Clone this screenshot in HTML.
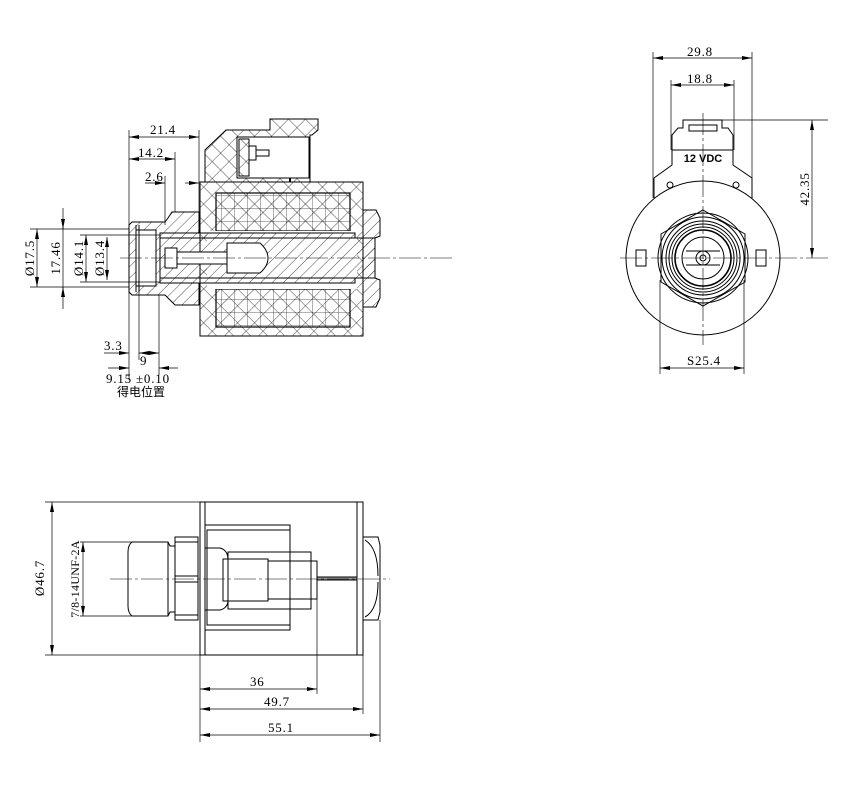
<!DOCTYPE html>
<html><head><meta charset="utf-8"><style>
html,body{margin:0;padding:0;background:#fff;}
svg{display:block;}
text{font-family:"Liberation Serif","Noto Serif CJK SC",serif;font-size:13px;letter-spacing:0.8px;fill:#000;}
</style></head><body>
<svg width="852" height="800" viewBox="0 0 852 800" xmlns="http://www.w3.org/2000/svg">
<defs>
<pattern id="h" width="8" height="8" patternUnits="userSpaceOnUse" patternTransform="rotate(45)"><line x1="0" y1="0" x2="0" y2="8" stroke="#000" stroke-width="0.7"/></pattern>
<pattern id="x" width="12" height="12" patternUnits="userSpaceOnUse" patternTransform="rotate(45)"><line x1="0" y1="0" x2="0" y2="12" stroke="#000" stroke-width="0.7"/><line x1="0" y1="0" x2="12" y2="0" stroke="#000" stroke-width="0.7"/></pattern>
<pattern id="g" width="13" height="13" patternUnits="userSpaceOnUse"><line x1="0" y1="0" x2="0" y2="13" stroke="#000" stroke-width="0.6"/><line x1="0" y1="0" x2="13" y2="0" stroke="#000" stroke-width="0.6"/></pattern>
<marker id="a" viewBox="0 0 10 4" refX="10" refY="2" markerWidth="10" markerHeight="4" orient="auto-start-reverse" markerUnits="userSpaceOnUse"><path d="M0,0L10,2L0,4z" fill="#000"/></marker>
</defs>
<g fill="none" stroke="#000" stroke-width="1">
<rect x="200" y="182" width="163" height="154" fill="url(#x)"/>
<rect x="216" y="193" width="134" height="38" fill="url(#g)" stroke-width="1.2"/>
<rect x="216" y="289" width="134" height="38" fill="url(#g)" stroke-width="1.2"/>
<rect x="207" y="231" width="150" height="58" fill="#fff" stroke="none"/>
<path d="M205,182 L205,150 L226,130 L270,130 L270,119 L318,119 L318,130 L312,135 L310,135 L310,182 Z" fill="url(#x)"/>
<rect x="237" y="137" width="72" height="41" fill="#fff"/>
<rect x="239" y="139" width="10" height="37" fill="url(#x)"/>
<rect x="249" y="146" width="7" height="14" fill="#fff"/>
<rect x="256" y="150" width="13" height="6" fill="#fff"/>
<line x1="290" y1="178" x2="290" y2="182" stroke-width="2"/>
<path d="M129,225 L132,222 L165,222 L168,218 L172,212 L199,212 L199,233 L160,233 L160,283 L199,283 L199,305 L175,305 L168,298 L165,295 L132,295 L129,292 Z" fill="url(#h)"/>
<rect x="136" y="230" width="20" height="56" fill="#fff"/>
<line x1="136" y1="225" x2="136" y2="292"/><line x1="139" y1="225" x2="139" y2="292"/>
<path d="M160,233 L355,233 L355,238 L375,238 L375,278 L355,278 L355,283 L160,283 Z" fill="url(#h)"/>
<rect x="165" y="248" width="12" height="20" fill="#fff"/>
<rect x="177" y="252" width="50" height="12" fill="#fff"/>
<path d="M227,243 L260,243 Q268,250 268,258 Q268,266 260,273 L227,273 Z" fill="#fff"/>
<line x1="160" y1="238" x2="360" y2="238"/><line x1="160" y1="278" x2="360" y2="278"/>
<path d="M363,210 L376,210 L380,218 L380,236 L375,238 L375,278 L380,280 L380,298 L376,307 L363,307 Z" fill="url(#h)"/>
<line x1="120" y1="258" x2="455" y2="258" stroke-width="0.6" stroke-dasharray="22,3,3,3"/>
<line x1="129" y1="130" x2="129" y2="380" stroke-width="0.7"/>
<line x1="199" y1="130" x2="199" y2="212" stroke-width="0.7"/>
<line x1="175" y1="152" x2="175" y2="212" stroke-width="0.7"/>
<line x1="165" y1="176" x2="165" y2="225" stroke-width="0.7"/>
<line x1="129" y1="137" x2="199" y2="137" stroke-width="0.7" marker-start="url(#a)" marker-end="url(#a)"/>
<line x1="129" y1="159" x2="175" y2="159" stroke-width="0.7" marker-start="url(#a)" marker-end="url(#a)"/>
<line x1="145" y1="183" x2="165" y2="183" stroke-width="0.7" marker-end="url(#a)"/>
<line x1="185" y1="183" x2="199" y2="183" stroke-width="0.7" marker-end="url(#a)"/>
<line x1="30" y1="229" x2="129" y2="229" stroke-width="0.7"/>
<line x1="30" y1="287" x2="129" y2="287" stroke-width="0.7"/>
<line x1="80" y1="235" x2="160" y2="235" stroke-width="0.7"/>
<line x1="80" y1="282" x2="160" y2="282" stroke-width="0.7"/>
<line x1="37" y1="229" x2="37" y2="287" stroke-width="0.7" marker-start="url(#a)" marker-end="url(#a)"/>
<line x1="63" y1="208" x2="63" y2="309" stroke-width="0.7"/>
<line x1="63" y1="219" x2="63" y2="229" stroke-width="0.7" marker-end="url(#a)"/>
<line x1="63" y1="297" x2="63" y2="287" stroke-width="0.7" marker-end="url(#a)"/>
<line x1="86" y1="235" x2="86" y2="282" stroke-width="0.7" marker-start="url(#a)" marker-end="url(#a)"/>
<line x1="107" y1="237" x2="107" y2="280" stroke-width="0.7" marker-start="url(#a)" marker-end="url(#a)"/>
<line x1="139" y1="292" x2="139" y2="360" stroke-width="0.7"/>
<line x1="159" y1="295" x2="159" y2="375" stroke-width="0.7"/>
<line x1="104" y1="353" x2="129" y2="353" stroke-width="0.7" marker-end="url(#a)"/>
<line x1="139" y1="353" x2="159" y2="353" stroke-width="0.7" marker-start="url(#a)" marker-end="url(#a)"/>
<line x1="108" y1="368" x2="129" y2="368" stroke-width="0.7" marker-end="url(#a)"/>
<line x1="178" y1="368" x2="159" y2="368" stroke-width="0.7" marker-end="url(#a)"/>
</g>
<text x="150" y="134">21.4</text>
<text x="138" y="157">14.2</text>
<text x="145" y="181">2.6</text>
<text x="104" y="350">3.3</text>
<text x="140" y="365">9</text>
<text x="106" y="383">9.15 ±0.10</text>
<text x="117" y="396" style="font-family:'Noto Sans CJK SC',sans-serif;font-size:12px;letter-spacing:0">得电位置</text>
<text transform="translate(34,258) rotate(-90)" text-anchor="middle">Ø17.5</text>
<text transform="translate(60,258) rotate(-90)" text-anchor="middle">17.46</text>
<text transform="translate(83,258) rotate(-90)" text-anchor="middle">Ø14.1</text>
<text transform="translate(104,258) rotate(-90)" text-anchor="middle">Ø13.4</text>

<g fill="none" stroke="#000" stroke-width="1">
<path d="M654,198 L654,178 L672,165 L672,135 L678,128 L683,128 L683,120 L722,120 L722,128 L728,128 L733,135 L733,165 L752,178 L752,198"/>
<line x1="672" y1="150" x2="733" y2="150"/>
<rect x="689" y="125" width="28" height="6"/>
<circle cx="670" cy="185" r="3"/><circle cx="736" cy="185" r="3"/>
<circle cx="703" cy="258" r="77"/>
<polygon points="703,210 745,234 745,282 703,306 661,282 661,234"/>
<circle cx="703" cy="258" r="45"/>
<circle cx="703" cy="258" r="41"/>
<circle cx="703" cy="258" r="37"/>
<circle cx="703" cy="258" r="34"/>
<circle cx="703" cy="258" r="31"/>
<circle cx="703" cy="258" r="28" stroke-width="1.6"/>
<circle cx="703" cy="258" r="21"/>
<path d="M686,251 L720,251 M686,265 L720,265"/>
<circle cx="703" cy="258" r="7"/><circle cx="703" cy="258" r="3"/>
<rect x="636" y="250" width="10" height="16"/><rect x="756" y="250" width="10" height="16"/>
<line x1="620" y1="258" x2="828" y2="258" stroke-width="0.6" stroke-dasharray="22,3,3,3"/>
<line x1="703" y1="113" x2="703" y2="345" stroke-width="0.6" stroke-dasharray="22,3,3,3"/>
<line x1="653" y1="52" x2="653" y2="198" stroke-width="0.7"/>
<line x1="752" y1="52" x2="752" y2="198" stroke-width="0.7"/>
<line x1="671" y1="80" x2="671" y2="150" stroke-width="0.7"/>
<line x1="734" y1="80" x2="734" y2="150" stroke-width="0.7"/>
<line x1="653" y1="58" x2="752" y2="58" stroke-width="0.7" marker-start="url(#a)" marker-end="url(#a)"/>
<line x1="671" y1="85" x2="734" y2="85" stroke-width="0.7" marker-start="url(#a)" marker-end="url(#a)"/>
<line x1="722" y1="120" x2="828" y2="120" stroke-width="0.7"/>
<line x1="812" y1="120" x2="812" y2="258" stroke-width="0.7" marker-start="url(#a)" marker-end="url(#a)"/>
<line x1="660" y1="280" x2="660" y2="374" stroke-width="0.7"/>
<line x1="744" y1="280" x2="744" y2="374" stroke-width="0.7"/>
<line x1="660" y1="368" x2="744" y2="368" stroke-width="0.7" marker-start="url(#a)" marker-end="url(#a)"/>
</g>
<text x="687" y="56">29.8</text>
<text x="687" y="83">18.8</text>
<text x="703" y="162" text-anchor="middle" style="font-family:'Liberation Sans',sans-serif;font-weight:bold;font-size:11px;letter-spacing:0">12 VDC</text>
<text transform="translate(809,189) rotate(-90)" text-anchor="middle">42.35</text>
<text x="687" y="365">S25.4</text>

<g fill="none" stroke="#000" stroke-width="1">
<rect x="200" y="502" width="163" height="153"/>
<line x1="205" y1="502" x2="205" y2="655"/><line x1="357" y1="502" x2="357" y2="655"/>
<rect x="205" y="525" width="85" height="105"/>
<rect x="207" y="530" width="83" height="95"/>
<path d="M205,548 L220,548 Q228,550 228,560 L228,600 Q228,608 220,610 L205,610"/>
<rect x="228" y="552" width="83" height="57"/>
<rect x="223" y="559" width="45" height="42"/>
<rect x="268" y="561" width="49" height="38"/>
<path d="M175,537 L198,537 L198,620 L175,620 Z"/>
<line x1="175" y1="542" x2="198" y2="542"/><line x1="175" y1="615" x2="198" y2="615"/>
<line x1="175" y1="576" x2="198" y2="576"/><line x1="175" y1="582" x2="198" y2="582"/>
<path d="M175,546 L170,546 L168,542 L132,542 Q128,545 128,552 L128,606 Q128,613 132,616 L168,616 L170,612 L175,612 Z"/>
<line x1="168" y1="542" x2="168" y2="616"/>
<path d="M363,537 L378,537 L380,545 L380,612 L378,620 L363,620 Z"/>
<path d="M365,540 Q378,548 378,576 M365,617 Q378,610 378,582"/>
<rect x="317" y="577" width="40" height="3" fill="#999"/>
<line x1="110" y1="579" x2="390" y2="579" stroke-width="0.6" stroke-dasharray="22,3,3,3"/>
<line x1="45" y1="502" x2="200" y2="502" stroke-width="0.7"/>
<line x1="45" y1="655" x2="200" y2="655" stroke-width="0.7"/>
<line x1="52" y1="502" x2="52" y2="655" stroke-width="0.7" marker-start="url(#a)" marker-end="url(#a)"/>
<line x1="80" y1="542" x2="132" y2="542" stroke-width="0.7"/>
<line x1="80" y1="616" x2="132" y2="616" stroke-width="0.7"/>
<line x1="83" y1="542" x2="83" y2="616" stroke-width="0.7" marker-start="url(#a)" marker-end="url(#a)"/>
<line x1="200" y1="655" x2="200" y2="742" stroke-width="0.7"/>
<line x1="317" y1="599" x2="317" y2="694" stroke-width="0.7"/>
<line x1="363" y1="655" x2="363" y2="714" stroke-width="0.7"/>
<line x1="380" y1="620" x2="380" y2="742" stroke-width="0.7"/>
<line x1="200" y1="689" x2="317" y2="689" stroke-width="0.7" marker-start="url(#a)" marker-end="url(#a)"/>
<line x1="200" y1="709" x2="363" y2="709" stroke-width="0.7" marker-start="url(#a)" marker-end="url(#a)"/>
<line x1="200" y1="735" x2="380" y2="735" stroke-width="0.7" marker-start="url(#a)" marker-end="url(#a)"/>
</g>
<text transform="translate(44,578) rotate(-90)" text-anchor="middle">Ø46.7</text>
<text transform="translate(79,579) rotate(-90)" text-anchor="middle" style="font-size:12px;letter-spacing:0.3px">7/8-14UNF-2A</text>
<text x="250" y="686">36</text>
<text x="264" y="706">49.7</text>
<text x="268" y="732">55.1</text>
</svg>
</body></html>
